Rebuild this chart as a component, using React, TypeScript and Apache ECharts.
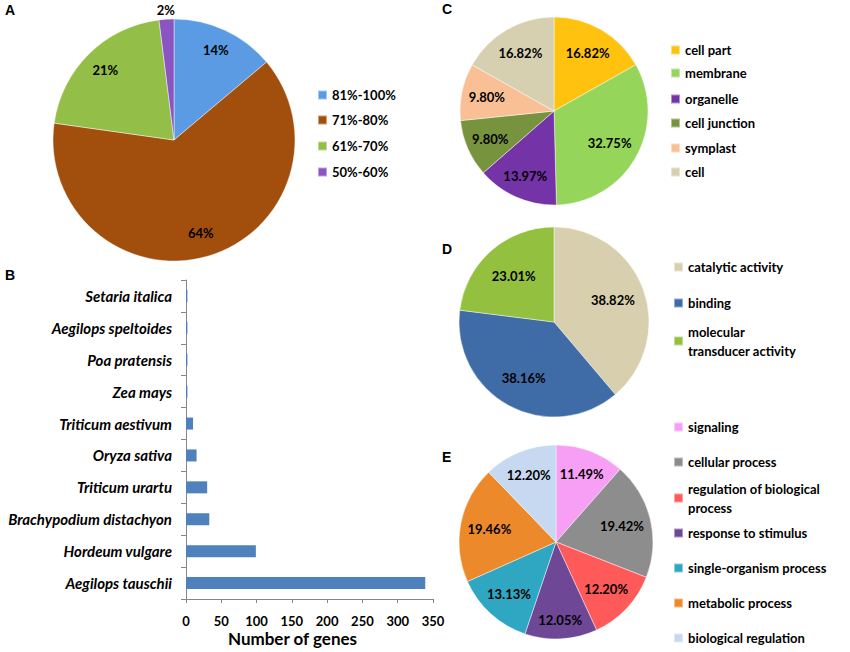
import React, { useEffect, useRef } from "react";
import * as echarts from "echarts";

// ---- Panel A: identity ranges ----
const identityRanges = ["81%-100%", "71%-80%", "61%-70%", "50%-60%"];
const identityShares = [14, 64, 21, 2];
const identityColors = ["#5a9be3", "#a24f0e", "#93be47", "#8a55c2"];

// ---- Panel B: species ----
const speciesNames = [
  "Setaria italica",
  "Aegilops speltoides",
  "Poa pratensis",
  "Zea mays",
  "Triticum aestivum",
  "Oryza sativa",
  "Triticum urartu",
  "Brachypodium distachyon",
  "Hordeum vulgare",
  "Aegilops tauschii",
];
const geneCounts = [2, 2, 2, 2, 10, 15, 30, 33, 99, 339];

// ---- Panel C: cellular component ----
const ccTerms = ["cell part", "membrane", "organelle", "cell junction", "symplast", "cell"];
const ccShares = [16.82, 32.75, 13.97, 9.8, 9.8, 16.82];
const ccColors = ["#ffc30f", "#95d55a", "#7433a6", "#77933e", "#f9c096", "#d6cfb0"];

// ---- Panel D: molecular function ----
const mfTerms = ["catalytic activity", "binding", "molecular transducer activity"];
const mfLegendText = ["catalytic activity", "binding", "molecular\ntransducer activity"];
const mfShares = [38.82, 38.16, 23.01];
const mfColors = ["#d7cfad", "#3f6ca6", "#93c13f"];

// ---- Panel E: biological process ----
const bpTerms = [
  "signaling",
  "cellular process",
  "regulation of biological process",
  "response to stimulus",
  "single-organism process",
  "metabolic process",
  "biological regulation",
];
const bpLegendText = [
  "signaling",
  "cellular process",
  "regulation of biological\nprocess",
  "response to stimulus",
  "single-organism process",
  "metabolic process",
  "biological regulation",
];
const bpShares = [11.49, 19.42, 12.2, 12.05, 13.13, 19.46, 12.2];
const bpColors = ["#f79ef5", "#8d8d8d", "#ff5a5a", "#6e4796", "#2fa6c2", "#ec8a2b", "#c6d9f0"];

const FONT = "Lato";

const radialLabels = (cx: number, cy: number, r: number, ks: number[]) => (p: any) => {
  const lx = p.labelRect.x + p.labelRect.width / 2;
  const ly = p.labelRect.y + p.labelRect.height / 2;
  const dx = lx - cx;
  const dy = ly - cy;
  const d = Math.hypot(dx, dy) || 1;
  const k = ks[p.dataIndex] ?? ks[0];
  return { x: cx + (dx / d) * k * r, y: cy + (dy / d) * k * r };
};

const pieSeries = (
  names: string[],
  values: number[],
  colors: string[],
  cx: number,
  cy: number,
  r: number,
  ks: number[],
  decimals: number
) => ({
  type: "pie",
  center: [cx, cy],
  radius: r,
  startAngle: 90,
  clockwise: true,
  avoidLabelOverlap: false,
  data: names.map((n, i) => ({ name: n, value: values[i], itemStyle: { color: colors[i] } })),
  itemStyle: { borderColor: "rgba(255,255,255,0.45)", borderWidth: 1 },
  label: {
    show: true,
    position: "inside",
    formatter: (p: any) => p.value.toFixed(decimals) + "%",
    color: "#000",
    fontFamily: FONT,
    fontWeight: "bold",
    fontSize: 13,
  },
  labelLine: { show: false },
  labelLayout: radialLabels(cx, cy, r, ks),
  emphasis: { disabled: true },
});

const legendBase = {
  orient: "vertical",
  padding: 0,
  itemWidth: 9,
  itemHeight: 9,
  icon: "rect",
  itemGap: 0,
  selectedMode: false,
  textStyle: { fontFamily: FONT, fontWeight: "bold", fontSize: 13, color: "#000", lineHeight: 16 },
};

const legendItems = (names: string[], texts: string[], left: number, centers: number[]) =>
  names.map((n, i) => {
    const wrapped = texts[i].includes("\n");
    return {
      ...legendBase,
      data: [n],
      left,
      top: wrapped ? centers[i] - 28.5 : centers[i] - 8,
      formatter: () => texts[i],
      textStyle: wrapped
        ? { ...legendBase.textStyle, lineHeight: 19, padding: [19, 0, 0, 0] }
        : legendBase.textStyle,
    };
  });

const letter = (text: string, left: number, top: number) => ({
  text,
  left,
  top,
  padding: 0,
  textStyle: { fontFamily: "Liberation Sans", fontWeight: "bold", fontSize: 14, color: "#000" },
});

const option: any = {
  animation: false,
  backgroundColor: "#fff",
  textStyle: { fontFamily: FONT },
  title: [
    letter("A", 5, 3),
    letter("B", 5, 268),
    letter("C", 442, 2),
    letter("D", 442, 242),
    letter("E", 442, 450),
  ],
  legend: [
    ...legendItems(identityRanges, identityRanges, 317, [95, 120, 146, 172]),
    ...legendItems(ccTerms, ccTerms, 670, [50, 73, 99, 123, 148, 172]),
    ...legendItems(mfTerms, mfLegendText, 673, [267, 303, 341]),
    ...legendItems(bpTerms, bpLegendText, 673, [427, 462, 498, 533, 568, 603, 638]),
  ],
  grid: { left: 186, top: 280, width: 247, height: 319 },
  xAxis: {
    type: "value",
    min: 0,
    max: 350,
    interval: 50,
    axisLine: { show: true, lineStyle: { color: "#868686" } },
    axisTick: { show: true, length: 4, lineStyle: { color: "#868686" } },
    splitLine: { show: false },
    axisLabel: { color: "#000", fontWeight: "bold", fontSize: 13, fontFamily: FONT, margin: 15 },
    name: "Number of genes",
    nameLocation: "middle",
    nameGap: 31,
    nameTextStyle: { color: "#000", fontWeight: "bold", fontSize: 17, fontFamily: FONT, padding: [0, 34, 0, 0] },
  },
  yAxis: {
    type: "category",
    data: speciesNames,
    inverse: true,
    axisLine: { show: true, lineStyle: { color: "#868686" } },
    axisTick: { show: true, length: 5, lineStyle: { color: "#868686" } },
    axisLabel: {
      color: "#000",
      fontWeight: "bold",
      fontStyle: "italic",
      fontSize: 15,
      fontFamily: FONT,
      margin: 14,
    },
  },
  series: [
    pieSeries(identityRanges, identityShares, identityColors, 174, 140, 121, [0.82, 0.8, 0.81, 1.08], 0),
    {
      type: "bar",
      data: geneCounts,
      barWidth: 12,
      itemStyle: { color: "#4f81bd" },
      emphasis: { disabled: true },
    },
    pieSeries(ccTerms, ccShares, ccColors, 554, 111, 94, [0.71, 0.68, 0.76, 0.74, 0.73, 0.71], 2),
    pieSeries(mfTerms, mfShares, mfColors, 554, 322, 95, [0.66, 0.67, 0.64], 2),
    pieSeries(bpTerms, bpShares, bpColors, 556, 542, 97, [0.75, 0.7, 0.71, 0.81, 0.72, 0.7, 0.75], 2),
  ],
};

export default function App() {
  const ref = useRef<HTMLDivElement>(null);
  useEffect(() => {
    const chart = echarts.init(ref.current as HTMLDivElement, null, { renderer: "svg" });
    chart.setOption(option);
    return () => chart.dispose();
  }, []);
  return (
    <div
      ref={ref}
      style={{ position: "absolute", left: 0, top: 0, width: 850, height: 652, background: "#fff" }}
    />
  );
}
